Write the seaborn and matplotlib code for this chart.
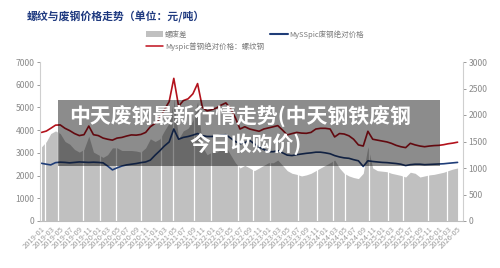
import matplotlib
matplotlib.use("Agg")
import matplotlib.pyplot as plt
from matplotlib.patches import Rectangle, Patch
from matplotlib.lines import Line2D
import pandas as pd
import seaborn as sns

# ---------------- data (monthly readings from the picture) ----------------
start_month = "2019-01-01"
end_month = "2026-05-01"

rebar = [  # Myspic 普钢绝对价格：螺纹钢 (left axis)
    3900, 3960, 4080, 4220, 4230, 4080, 3980, 3850, 3760, 3800, 4180, 3800,
    3760, 3650, 3600, 3560, 3650, 3680, 3740, 3790, 3780, 3810, 3900, 4150,
    4300, 4550, 4900, 5250, 6280, 5050, 5300, 5380, 5600, 6050, 5000, 4850,
    4900, 4980, 5100, 5200, 4950, 4550, 4050, 4150, 4050, 4000, 3950, 4050,
    4100, 4150, 4200, 4000, 3790, 3850, 3900, 3870, 3860, 3900, 4050, 4080,
    4080, 4050, 3700, 3850, 3830, 3750, 3600, 3350, 3300, 3950, 3600, 3560,
    3520, 3480, 3420, 3330, 3270, 3230, 3420, 3350, 3300, 3270, 3300, 3320,
    3330, 3360, 3400, 3430, 3470,
]

scrap = [  # MySSpic 废钢绝对价格 (left axis)
    2540, 2500, 2470, 2570, 2590, 2580, 2560, 2580, 2600, 2590, 2580, 2590,
    2580, 2560, 2420, 2250, 2340, 2420, 2470, 2500, 2530, 2570, 2600, 2680,
    2900, 3100, 3300, 3480, 4050, 3600, 3680, 3720, 3780, 3850, 3760, 3720,
    3720, 3740, 3780, 3800, 3650, 3500, 3400, 3450, 3550, 3400, 3250, 3150,
    3050, 3050, 3100, 3000, 2900, 2880, 2920, 2950, 2980, 3000, 3030, 3030,
    3000, 2960, 2880, 2820, 2780, 2760, 2700, 2650, 2400, 2650, 2620, 2600,
    2580, 2570, 2550, 2530, 2500, 2440, 2480, 2500, 2500, 2480, 2490, 2500,
    2510, 2520, 2540, 2560, 2580,
]

spread = [  # 螺废差 (right axis)
    1400, 1500, 1650, 1700, 1650, 1500, 1450, 1350, 1300, 1350, 1600, 1300,
    1250, 1200, 1250, 1380, 1380, 1330, 1330, 1330, 1320, 1300, 1380, 1550,
    1500, 1550, 1700, 1850, 2300, 1550, 1700, 1750, 1900, 2250, 1400, 1250,
    1300, 1300, 1350, 1400, 1250, 1100, 1000, 1050, 1000, 950, 1000, 1050,
    1100, 1100, 1150, 1050, 950, 900, 880, 850, 870, 900, 950, 1000,
    1050, 1100, 1150, 1000, 900, 850, 820, 800, 900, 1400, 1000, 950,
    940, 930, 900, 880, 860, 830, 920, 900, 830, 850, 870, 880,
    900, 920, 950, 980, 1000,
]

gap_dates = [  # white breaks in the spread area
    "2019-01-20", "2019-04-18", "2019-09-25", "2020-01-12", "2020-04-25",
    "2020-10-01", "2021-02-10", "2021-04-25", "2021-09-05", "2021-12-25",
    "2022-06-15", "2022-09-25", "2023-01-12", "2023-07-10", "2023-11-10",
    "2024-02-20", "2024-05-05", "2024-10-10", "2025-02-10", "2025-05-12",
    "2025-10-20", "2026-02-20",
]

left_ticks = [0, 1000, 2000, 3000, 4000, 5000, 6000, 7000]
right_ticks = [0, 500, 1000, 1500, 2000, 2500, 3000]

title = "螺纹与废钢价格走势（单位：元/吨）"
labels = ["螺废差", "Myspic普钢绝对价格：螺纹钢", "MySSpic废钢绝对价格"]
banner_lines = ["中天废钢最新行情走势(中天钢铁废钢", "今日收购价)"]

dates = pd.date_range(start_month, end_month, freq="MS")
df = pd.DataFrame({"date": dates, "rebar": rebar, "scrap": scrap, "spread": spread})

# ---------------- drawing ----------------
sns.set_theme(style="white")
plt.rcParams["font.family"] = ["Noto Sans CJK SC", "DejaVu Sans"]

W, H = 500, 268
fig = plt.figure(figsize=(5, 2.68), dpi=100)
ax = fig.add_axes([40 / W, (H - 221) / H, (463 - 40) / W, (221 - 62) / H])
ax2 = ax.twinx()

c_area = "#c0c0c0"
c_red = "#b3121c"
c_blue = "#1f3d78"
c_axis = "#cfcfcf"
c_text = "#8a8a8a"

ax2.fill_between(df["date"], df["spread"], color=c_area, lw=0, zorder=1)
for d in gap_dates:
    ax2.axvline(pd.Timestamp(d), color="white", lw=0.9, zorder=2)

ax.set_zorder(ax2.get_zorder() + 1)
ax.patch.set_visible(False)

sns.lineplot(data=df, x="date", y="rebar", ax=ax, color=c_red, lw=1.2)
sns.lineplot(data=df, x="date", y="scrap", ax=ax, color=c_blue, lw=1.2)

ax.set_ylim(0, 7000)
ax2.set_ylim(0, 3000)
ax.set_yticks(left_ticks)
ax2.set_yticks(right_ticks)
ax.set_xlim(pd.Timestamp("2018-12-22"), pd.Timestamp("2026-06-05"))

xt = pd.date_range(start_month, end_month, freq="2MS")
ax.set_xticks(xt)
ax.set_xticklabels([d.strftime("%Y-%m") for d in xt], rotation=45,
                   ha="right", rotation_mode="anchor", fontsize=5.4, color="#9c9c9c")
ax.set_xlabel("")
ax.set_ylabel("")
ax2.set_ylabel("")

for a in (ax, ax2):
    for s in a.spines.values():
        s.set_visible(False)
ax.spines["left"].set_visible(True)
ax.spines["left"].set_color(c_axis)
ax.spines["left"].set_linewidth(0.8)
ax.spines["bottom"].set_visible(True)
ax.spines["bottom"].set_color("#bdbdbd")
ax.spines["bottom"].set_linewidth(0.8)
ax2.spines["right"].set_visible(True)
ax2.spines["right"].set_color(c_axis)
ax2.spines["right"].set_linewidth(0.8)

ax.tick_params(axis="y", labelsize=6.2, colors=c_text, length=2, width=0.6, pad=2)
ax.tick_params(axis="x", length=0, pad=3)
ax2.tick_params(axis="y", labelsize=6.2, colors=c_text, length=2, width=0.6, pad=2)
for lab in ax.get_yticklabels() + ax2.get_yticklabels():
    lab.set_color(c_text)

# title
fig.text(27 / W, 1 - 17 / H, title, fontsize=7.8, fontweight="bold",
         color="#1f3a80", ha="left", va="center")

# legend
handles = [Patch(facecolor=c_area, edgecolor="none"),
           Line2D([], [], color="#c0101c", lw=1.1),
           Line2D([], [], color=c_blue, lw=1.5)]
fig.legend(handles, labels, loc="upper left", bbox_to_anchor=(140 / W, 1 - 24 / H),
           ncol=2, frameon=False, fontsize=5.4, handlelength=2.3, handleheight=0.7,
           handletextpad=0.25, columnspacing=0.8, labelspacing=0.5,
           labelcolor="#7a7a7a", borderpad=0.3)

# overlay banner
fig.add_artist(Rectangle((58 / W, (H - 166) / H), (440 - 58) / W, 66 / H,
                         transform=fig.transFigure, facecolor="black", alpha=0.45,
                         edgecolor="none", zorder=10))
fig.text(240 / W, 1 - 116 / H, banner_lines[0], fontsize=15, fontweight="bold",
         color="white", ha="center", va="center", zorder=11)
fig.text(246 / W, 1 - 145 / H, banner_lines[1], fontsize=15, fontweight="bold",
         color="white", ha="center", va="center", zorder=11)

fig.savefig("out.png", dpi=100)
